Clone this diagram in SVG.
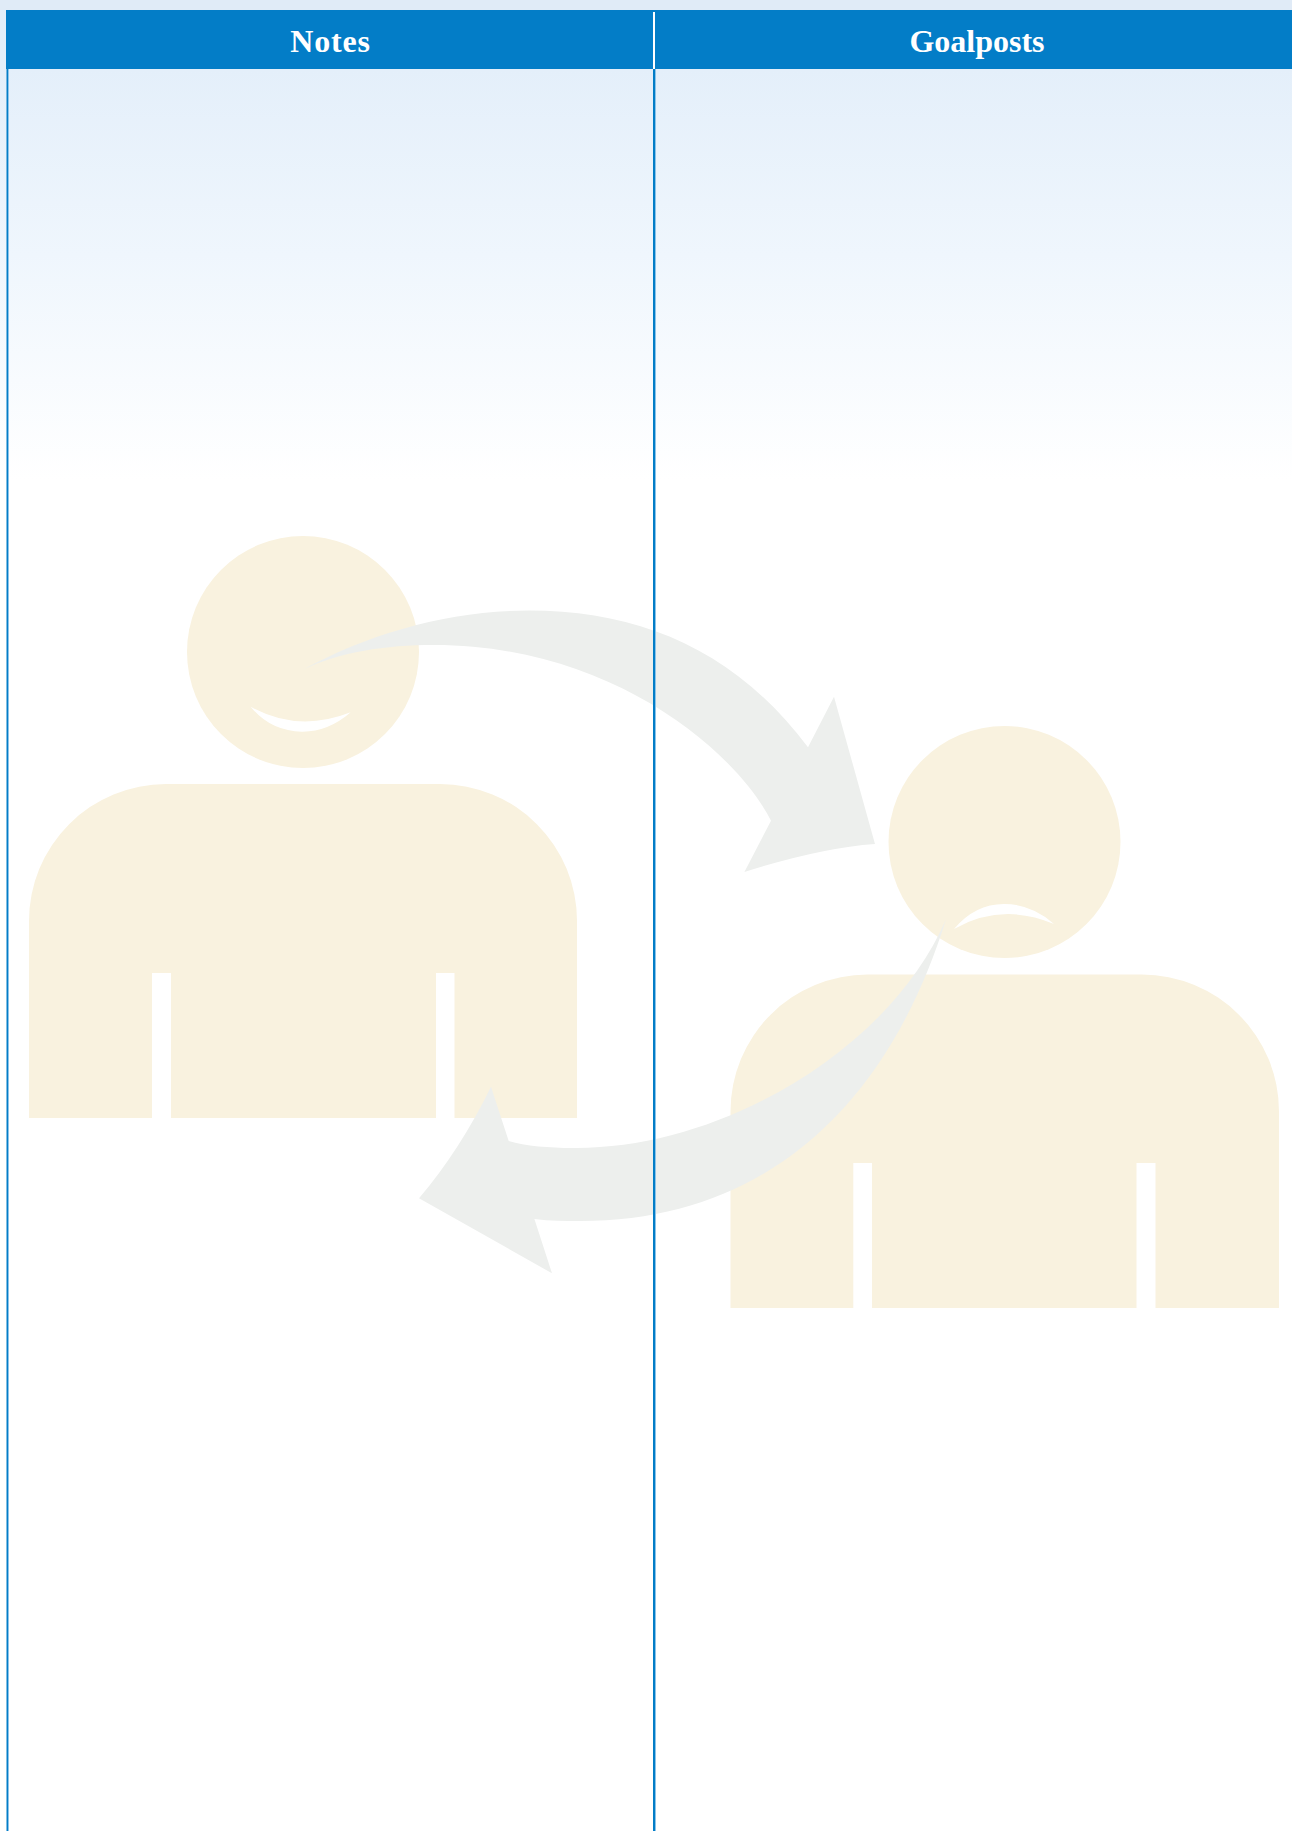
<svg xmlns="http://www.w3.org/2000/svg" width="1292" height="1831" viewBox="0 0 1292 1831">
<style>
.hdr{font-family:"Liberation Serif",serif;font-weight:bold;font-size:32px;fill:#fff;text-anchor:middle}
.person{fill:#f9f2df}
.cut{fill:#fff}
.arrow{fill:#edefed}
.rule{fill:#037dc7}
.rule2{fill:#8cc4ea}
</style>
<defs>
<linearGradient id="bg" x1="0" y1="69" x2="0" y2="480" gradientUnits="userSpaceOnUse">
<stop offset="0" stop-color="#e4effa"/><stop offset=".45" stop-color="#eff6fd"/><stop offset="1" stop-color="#fff"/>
</linearGradient>
</defs>
<rect width="1292" height="1831" fill="#fff"/>
<rect width="1292" height="480" fill="url(#bg)"/>
<rect width="1292" height="10" fill="#e0ebf7"/>
<g id="person-happy">
<circle class="person" cx="303" cy="652" r="116"/>
<path class="person" d="M29,1118V921A137,137 0 0 1 166,784H440A137,137 0 0 1 577,921V1118H454.500V973H436V1118H171V973H152V1118Z"/>
<path class="cut" d="M250.700,706.700Q298,733 350.700,712.300Q328,732 302,731.700Q270,731 250.700,706.700Z"/>
</g>
<g id="person-sad">
<circle class="person" cx="1004.500" cy="842" r="116"/>
<path class="person" d="M730.500,1308V1111.500A137,137 0 0 1 867.500,974.500H1142A137,137 0 0 1 1279,1111.500V1308H1155.500V1163H1136.500V1308H872V1163H853.300V1308Z"/>
<path class="cut" d="M954,929Q1002,902 1054,924Q1032,904 1004,904Q975,904 954,929Z"/>
</g>
<g id="connectors">
<path class="arrow" d="M303.700,669.300C370,633 450,610.500 529,610.500C640,610.500 735,650 808,747.300L834,696.700L875,844Q820,848 744.400,872L771,820.700C735,750 610,645 434,645C385,645 340,652 303.700,669.300Z"/>
<path class="arrow" d="M946,919.300C890,1050 720,1150 572,1148C550,1148 525,1146 508.700,1141L491,1086.700Q460,1150 419,1198.300L552,1273.300L534.400,1219C550,1221 565,1221 580,1221C770,1221 890,1100 946,919.300Z"/>
</g>
<g id="swimlanes">
<rect class="rule" x="6" y="10" width="1286" height="59"/>
<rect class="rule" x="6.500" y="69" width="1.500" height="1762"/>
<rect class="rule2" x="8" y="69" width="1" height="1762"/>
<rect class="rule" x="653" y="69" width="2" height="1762"/>
<rect class="rule2" x="655" y="69" width="1" height="1762"/>
<rect x="653" y="12" width="2" height="57" fill="#fff"/>
</g>
<g id="lane-notes"><text class="hdr" x="330.500" y="51.500" letter-spacing=".8">Notes</text></g>
<g id="lane-goalposts"><text class="hdr" x="977" y="51.500">Goalposts</text></g>
</svg>
